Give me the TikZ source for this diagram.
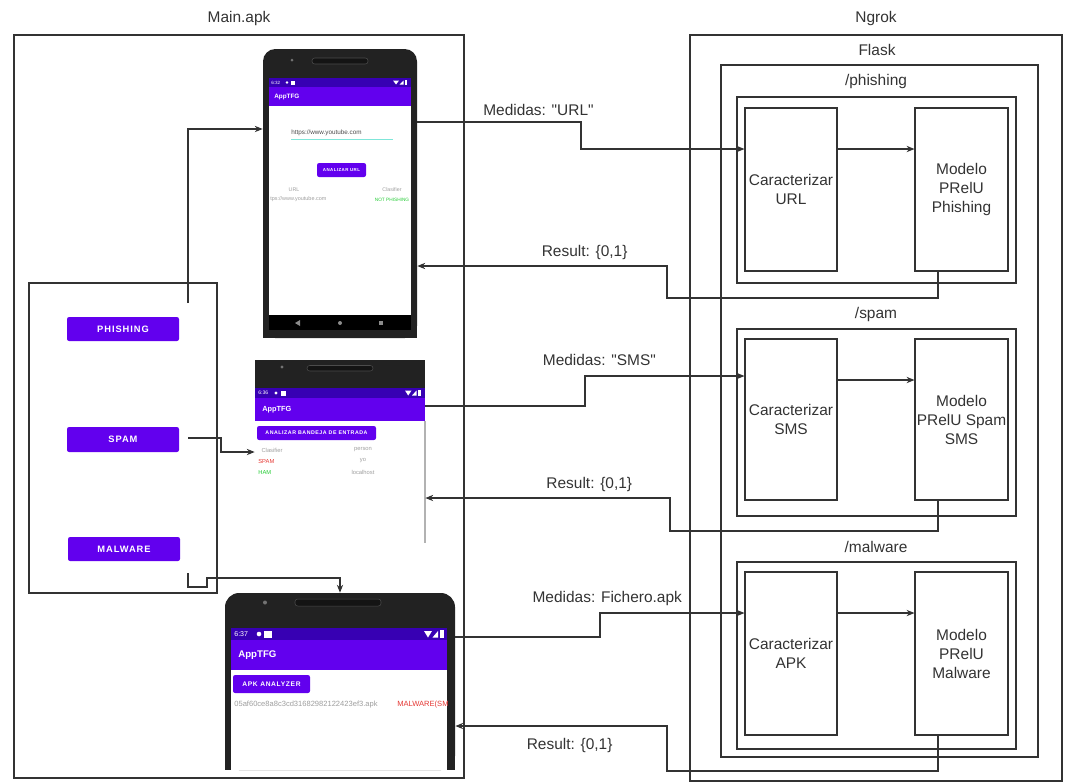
\documentclass[tikz,border=0pt]{standalone}
\usepackage{fontspec}
\setmainfont{Liberation Sans}
\newfontfamily\btnfont[LetterSpace=10]{Liberation Sans}
\usetikzlibrary{arrows.meta,positioning}
\definecolor{lineclr}{HTML}{333333}
\definecolor{apppurple}{HTML}{6200EE}
\definecolor{statuspurple}{HTML}{3700B3}
\definecolor{phonebody}{HTML}{222222}
\definecolor{slotgray}{HTML}{141414}
\definecolor{fieldteal}{HTML}{7FE6D9}
\definecolor{hintgray}{HTML}{9E9E9E}
\definecolor{okgreen}{HTML}{22CC33}
\definecolor{badred}{HTML}{E53935}

\begin{document}
\begin{tikzpicture}[x=0.02cm, y=-0.02cm,
  wh/.style 2 args={minimum width=#1*0.02cm, minimum height=#2*0.02cm},
  box/.style={draw=lineclr, line width=0.6pt, inner sep=0pt, align=center, text=lineclr, font=\fontsize{8.8}{10.8}\selectfont},
  lbl/.style={text=lineclr, font=\fontsize{8.8}{10.8}\selectfont},
  arrow/.style={-{Stealth[length=4.5pt,width=3.6pt]}, lineclr, line width=0.6pt},
  appbtn/.style={fill=apppurple, rounded corners=1.2pt, inner sep=0pt, text=white, font=\btnfont\bfseries\fontsize{5.3}{6}\selectfont},
  phone/.style={fill=phonebody, inner sep=0pt},
  scr/.style={inner sep=0pt, text=hintgray},
  slot/.style={fill=slotgray, draw=black!70, line width=0.3pt, rounded corners=1.5pt},
]
\useasboundingbox (0,0) rectangle (1067,782);

% Containers
\node[box, wh={450}{743}] (mainapk) at (239,406.5) {};
\node[lbl] (mainlbl) at (239,18) {Main.apk};
\node[box, wh={372}{746}] (ngrok) at (876,408) {};
\node[lbl] (ngroklbl) at (876,18) {Ngrok};
\node[box, wh={317}{692}] (flask) at (879.5,411) {};
\node[lbl] (flasklbl) at (877,50) {Flask};

% /phishing route
\node[box, wh={279}{186}] (routephish) at (876.5,190) {};
\node[lbl] (routephishlbl) at (876,81) {/phishing};
\node[box, wh={92}{163}] (caraurl) at (791,189.5) {Caracterizar\\URL};
\node[box, wh={93}{163}] (modphish) at (961.5,189.5) {Modelo\\PRelU\\Phishing};

% /spam route
\node[box, wh={279}{187}] (routespam) at (876.5,422.5) {};
\node[lbl] (routespamlbl) at (876,314) {/spam};
\node[box, wh={92}{161}] (carasms) at (791,419.5) {Caracterizar\\SMS};
\node[box, wh={93}{161}] (modspam) at (961.5,419.5) {Modelo\\PRelU Spam\\SMS};

% /malware route
\node[box, wh={279}{187}] (routemal) at (876.5,655.5) {};
\node[lbl] (routemallbl) at (876,547) {/malware};
\node[box, wh={92}{163}] (caraapk) at (791,653.5) {Caracterizar\\APK};
\node[box, wh={93}{163}] (modmal) at (961.5,653.5) {Modelo\\PRelU\\Malware};

% Menu with the three buttons
\node[box, wh={188}{310}] (menu) at (123,438) {};
\node[appbtn, wh={112}{24}] (btnphish) at (123,329) {PHISHING};
\node[appbtn, wh={112}{25}] (btnspam) at (123,439.5) {SPAM};
\node[appbtn, wh={112}{24}] (btnmal) at (124,549) {MALWARE};

% Phone: URL screen
\node[phone, rounded corners=7pt, wh={154}{289}] (phoneurl) at (340,193.5) {};
\fill[phonebody] (263,250) rectangle (417,338);
\path[slot] (312,58) rectangle (368,64);
\fill[black!55] (292,60) circle (1.5);
\fill[white] (269,106) rectangle (411,315);
\fill[statuspurple] (269,78) rectangle (411,87);
\fill[apppurple] (269,87) rectangle (411,106);
\fill[black] (269,315) rectangle (411,330);
\fill[black!45] (300,320) -- (300,326) -- (295,323) -- cycle;
\fill[black!45] (340,323) circle (2);
\fill[black!45] (379,321) rectangle (383,325);
\node[scr, anchor=west, text=white, font=\fontsize{2.6}{3}\selectfont] (urltime) at (271,82.5) {6:32};
\fill[white] (287,82.5) circle (1.4);
\fill[white] (290.5,80.5) rectangle (295,84.5);
\fill[white] (393,80.5) -- (399,80.5) -- (396,84.5) -- cycle;
\fill[white] (399.5,84.5) -- (403.5,84.5) -- (403.5,80.5) -- cycle;
\fill[white] (405,80) rectangle (407,85);
\node[scr, anchor=west, text=white, font=\bfseries\fontsize{3.6}{4}\selectfont] (urltitle) at (274,96.5) {AppTFG};
\node[scr, anchor=west, text=black!70, font=\fontsize{3.6}{4}\selectfont] (urlfield) at (291,133) {https://www.youtube.com};
\draw[fieldteal, line width=0.8pt] (291,139.5) -- (393,139.5);
\node[appbtn, wh={49}{14}, font=\btnfont\bfseries\fontsize{2.5}{3}\selectfont] (urlbtn) at (341.5,170) {ANALIZAR URL};
\node[scr, font=\fontsize{3}{3.5}\selectfont] (urlhead) at (294,190) {URL};
\node[scr, font=\fontsize{3}{3.5}\selectfont] (urlheadcls) at (392,190) {Clasifier};
\node[scr, anchor=west, font=\fontsize{3.1}{3.5}\selectfont] (urlrow) at (270,199.5) {tps://www.youtube.com};
\node[scr, text=okgreen, font=\fontsize{2.7}{3}\selectfont] (urlrowcls) at (392,199.5) {NOT PHISHING};

% Phone: SMS screen (cropped)
\node[inner sep=0pt, wh={170}{183}] (phonesms) at (340,451.5) {};
\fill[phonebody] (255,360) rectangle (425,388);
\path[slot] (307,365.5) rectangle (373,371);
\fill[black!55] (282,367) circle (1.6);
\fill[statuspurple] (255,388) rectangle (425,398);
\fill[apppurple] (255,398) rectangle (425,421);
\draw[black!30, line width=0.6pt] (425,421) -- (425,543);
\node[scr, anchor=west, text=white, font=\fontsize{2.9}{3.5}\selectfont] (smstime) at (258,393) {6:36};
\fill[white] (276,393) circle (1.6);
\fill[white] (280.5,390.5) rectangle (286,395.5);
\fill[white] (405,390.5) -- (411.5,390.5) -- (408.2,395.5) -- cycle;
\fill[white] (412,395.5) -- (416.5,395.5) -- (416.5,390.5) -- cycle;
\fill[white] (418,390) rectangle (420.5,396);
\node[scr, anchor=west, text=white, font=\bfseries\fontsize{4.2}{5}\selectfont] (smstitle) at (262,410) {AppTFG};
\node[appbtn, wh={119}{14}, font=\btnfont\bfseries\fontsize{3}{3.5}\selectfont] (smsbtn) at (316.5,433) {ANALIZAR BANDEJA DE ENTRADA};
\node[scr, font=\fontsize{3.3}{4}\selectfont] (smshead) at (272,450) {Clasifier};
\node[scr, font=\fontsize{3.3}{4}\selectfont] (smsheadwho) at (363,450) {person};
\node[scr, anchor=west, text=badred, font=\fontsize{3.3}{4}\selectfont] (smsrowspam) at (258,461) {SPAM};
\node[scr, font=\fontsize{3.3}{4}\selectfont] (smsrowyo) at (363,461) {yo};
\node[scr, anchor=west, text=okgreen, font=\fontsize{3.3}{4}\selectfont] (smsrowham) at (258,472) {HAM};
\node[scr, font=\fontsize{3.3}{4}\selectfont] (smsrowhost) at (363,472) {localhost};

% Phone: APK screen
\node[phone, rounded corners=8pt, wh={230}{177}] (phoneapk) at (340,681.5) {};
\fill[phonebody] (225,700) rectangle (455,770);
\path[slot] (295,599) rectangle (381,606);
\fill[black!55] (265,602.5) circle (2);
\fill[white] (231,670) rectangle (447,770);
\fill[statuspurple] (231,628) rectangle (447,640);
\fill[apppurple] (231,640) rectangle (447,670);
\node[scr, anchor=west, text=white, font=\fontsize{4}{4.5}\selectfont] (apktime) at (234,634) {6:37};
\fill[white] (259,634) circle (2.3);
\fill[white] (264,630.5) rectangle (272,637.5);
\fill[white] (424,631) -- (432,631) -- (428,637.5) -- cycle;
\fill[white] (432.5,637.5) -- (438,637.5) -- (438,631) -- cycle;
\fill[white] (440,630) rectangle (443.5,638);
\node[scr, anchor=west, text=white, font=\bfseries\fontsize{5.5}{6}\selectfont] (apktitle) at (238,655.5) {AppTFG};
\node[appbtn, wh={77}{18}, font=\btnfont\bfseries\fontsize{3.8}{4.5}\selectfont] (apkbtn) at (271.5,684) {APK ANALYZER};
\node[scr, anchor=west, font=\fontsize{4.3}{5}\selectfont] (apkfile) at (234,705) {05af60ce8a8c3cd31682982122423ef3.apk};
\node[scr, anchor=west, text=badred, font=\fontsize{4.3}{5}\selectfont] (apkresult) at (397,705) {MALWARE(SM};

% Buttons to screens
\coordinate (phishstart) at (188,303);
\coordinate (spamstart) at (188,438);
\coordinate (malstart) at (188,573);
\draw[arrow] (phishstart) |- (phoneurl.west |- 0,129);
\draw[arrow] (spamstart) -- (221,438) |- (phonesms.west |- 0,452);
\draw[arrow] (malstart) |- (207,587) |- (340,578) -- (phoneapk.north);

% Requests and results
\draw[arrow] (phoneurl.east |- 0,122) -- node[lbl, above, pos=0.74] (requrl) {Medidas: \textquotedbl URL\textquotedbl} (581,122) -- (581,149) -- (caraurl.west |- 0,149);
\draw[arrow] (caraurl.east |- 0,149) -- (modphish.west |- 0,149);
\draw[arrow] (modphish.south -| 938,0) -- (938,298) -- (667,298) -- (667,266) -- node[lbl, above, pos=0.33] (resurl) {Result: \{0,1\}} (phoneurl.east |- 0,266);

\draw[arrow] (phonesms.east |- 0,406) -- (585,406) -- (585,376) -- node[lbl, above=2.3pt, pos=0.09] (reqsms) {Medidas: \textquotedbl SMS\textquotedbl} (carasms.west |- 0,376);
\draw[arrow] (carasms.east |- 0,380) -- (modspam.west |- 0,380);
\draw[arrow] (modspam.south -| 938,0) -- (938,531) -- (670,531) -- (670,498) -- node[lbl, above, pos=0.33] (ressms) {Result: \{0,1\}} (phonesms.east |- 0,498);

\draw[arrow] (phoneapk.east |- 0,637) -- (600,637) -- (600,613) -- node[lbl, above=0.5pt, pos=0.05] (reqapk) {Medidas: Fichero.apk} (caraapk.west |- 0,613);
\draw[arrow] (caraapk.east |- 0,613) -- (modmal.west |- 0,613);
\draw[arrow] (modmal.south -| 938,0) -- (938,771) -- (667,771) -- (667,726) -- node[lbl, below=3.5pt, pos=0.46] (resapk) {Result: \{0,1\}} (phoneapk.east |- 0,726);

\end{tikzpicture}
\end{document}
